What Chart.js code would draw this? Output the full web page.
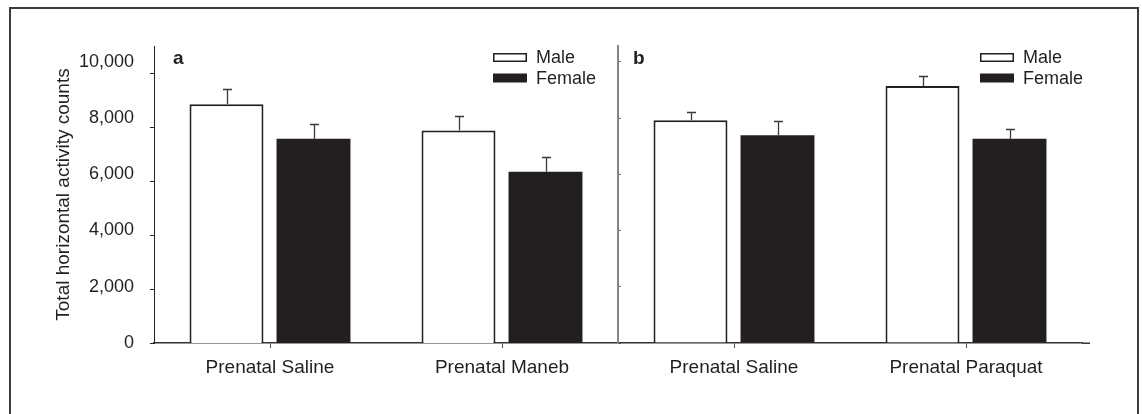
<!DOCTYPE html>
<html>
<head>
<meta charset="utf-8">
<script src="https://cdn.jsdelivr.net/npm/chart.js@4.4.1/dist/chart.umd.min.js"></script>
<style>
  html, body { margin: 0; padding: 0; background: #fff; overflow: hidden; }
  #fig { position: relative; width: 1142px; height: 414px; background: #fff; overflow: hidden; }
  #frame { position: absolute; left: 9px; top: 7px; width: 1126px; height: 440px;
           border: 2px solid #3b3b3b; border-bottom: none; }
  canvas { position: absolute; top: 0; }
  #panelA { left: 0; }
  #panelB { left: 600px; }
</style>
</head>
<body>
<div id="fig">
  <div id="frame"></div>
  <canvas id="panelA" width="620" height="414"></canvas>
  <canvas id="panelB" width="542" height="414"></canvas>
</div>
<script>
// Group means and SEM for total horizontal activity counts
const panelACategories = ['Prenatal Saline', 'Prenatal Maneb'];
const panelBCategories = ['Prenatal Saline', 'Prenatal Paraquat'];
const seriesNames = ['Male', 'Female'];

const panelAMale = [8490, 7560];
const panelAMaleSem = [530, 520];
const panelAFemale = [7260, 6090];
const panelAFemaleSem = [525, 520];

const panelBMale = [7920, 9140];
const panelBMaleSem = [285, 355];
const panelBFemale = [7385, 7265];
const panelBFemaleSem = [520, 355];

const yTickValues = [0, 2000, 4000, 6000, 8000, 10000];

const INK = '#231f20';
const FONT = '"Liberation Sans", Arial, Helvetica, sans-serif';

// Upper SEM whiskers with a short cap
const errorBars = {
  id: 'errorBars',
  afterDatasetsDraw(chart) {
    const ctx = chart.ctx;
    const y = chart.scales.y;
    ctx.save();
    ctx.strokeStyle = '#3a3a3a';
    ctx.lineWidth = 1.3;
    chart.data.datasets.forEach((ds, i) => {
      chart.getDatasetMeta(i).data.forEach((bar, j) => {
        const top = Math.round(y.getPixelForValue(ds.data[j] + ds.sem[j])) + 0.5;
        const x = Math.round(bar.x) + 0.5;
        ctx.beginPath();
        ctx.moveTo(x, bar.y);
        ctx.lineTo(x, top);
        ctx.moveTo(x - 4.5, top);
        ctx.lineTo(x + 4.5, top);
        ctx.stroke();
      });
    });
    ctx.restore();
  }
};

// Panel letter, the Male/Female key inside the plot area, and an optional
// short run of the baseline past the last category
const panelKey = {
  id: 'panelKey',
  afterDraw(chart, args, opts) {
    const { ctx, chartArea } = chart;
    ctx.save();
    if (opts.tail) {
      const xs = chart.scales.x;
      ctx.strokeStyle = xs.options.border.color;
      ctx.lineWidth = xs.options.border.width;
      ctx.beginPath();
      ctx.moveTo(chartArea.right, chartArea.bottom + 0.25);
      ctx.lineTo(chartArea.right + opts.tail, chartArea.bottom + 0.25);
      ctx.stroke();
    }
    ctx.fillStyle = INK;
    ctx.font = 'bold 19px ' + FONT;
    ctx.textBaseline = 'alphabetic';
    ctx.fillText(opts.letter, chartArea.left + opts.letterX, chartArea.top + 18);
    ctx.font = '18px ' + FONT;
    ctx.textBaseline = 'middle';
    chart.data.datasets.forEach((ds, i) => {
      const bx = chartArea.left + opts.keyX;
      const cy = chartArea.top + 11.5 + i * 20.5;
      ctx.fillStyle = ds.backgroundColor;
      ctx.fillRect(bx, cy - 4.5, 34, 9);
      if (ds.borderWidth) {
        ctx.strokeStyle = ds.borderColor;
        ctx.lineWidth = 1.5;
        ctx.strokeRect(bx + 0.75, cy - 3.75, 32.5, 7.5);
      }
      ctx.fillStyle = INK;
      ctx.fillText(ds.label, bx + 43, cy + 1);
    });
    ctx.restore();
  }
};

function setTicks(scale) {
  scale.ticks = yTickValues.map(v => ({ value: v }));
}

function datasets(male, maleSem, female, femaleSem) {
  const common = { categoryPercentage: 0.75, barPercentage: 0.85 };
  return [
    Object.assign({ label: seriesNames[0], data: male, sem: maleSem,
      backgroundColor: '#ffffff', borderColor: INK, borderWidth: 2 }, common),
    Object.assign({ label: seriesNames[1], data: female, sem: femaleSem,
      backgroundColor: INK, borderColor: INK, borderWidth: 0 }, common)
  ];
}

const xScale = {
  type: 'category',
  offset: true,
  grid: { offset: false, drawOnChartArea: false, tickLength: 5, color: '#555', lineWidth: 1 },
  border: { color: '#333', width: 1.5 },
  ticks: { color: INK, font: { size: 19, family: FONT }, padding: 8, maxRotation: 0 },
  afterFit(s) { s.height = 71; }
};

const baseOptions = {
  responsive: false,
  animation: false,
  events: [],
  plugins: { legend: { display: false }, tooltip: { enabled: false } }
};

// Panel a: labelled axis plus the panel's own tick marks
new Chart(document.getElementById('panelA'), {
  type: 'bar',
  data: { labels: panelACategories, datasets: datasets(panelAMale, panelAMaleSem, panelAFemale, panelAFemaleSem) },
  plugins: [errorBars, panelKey],
  options: Object.assign({}, baseOptions, {
    layout: { padding: { left: 48, top: 46, right: 2, bottom: 0 } },
    plugins: Object.assign({}, baseOptions.plugins, { panelKey: { letter: 'a', letterX: 19, keyX: 339, tail: 0 } }),
    scales: {
      x: xScale,
      y: {
        position: 'left', weight: 1, min: 0, max: 10560,
        afterBuildTicks: setTicks,
        grid: { display: false },
        border: { display: false },
        ticks: { color: INK, font: { size: 18, family: FONT }, padding: 8,
                 callback: v => v.toLocaleString('en-US') },
        title: { display: true, text: 'Total horizontal activity counts', color: INK,
                 font: { size: 19, family: FONT }, padding: { top: 4, bottom: 0 } },
        afterFit(s) { s.width = 102; }
      },
      ym: {
        position: 'left', weight: 0, min: 0, max: 11000,
        afterBuildTicks: setTicks,
        ticks: { display: false },
        grid: { drawOnChartArea: false, tickLength: 4, color: INK },
        border: { color: INK, width: 1 },
        afterFit(s) { s.width = 4; }
      }
    }
  })
});

// Panel b: unlabelled axis with inward tick marks
new Chart(document.getElementById('panelB'), {
  type: 'bar',
  data: { labels: panelBCategories, datasets: datasets(panelBMale, panelBMaleSem, panelBFemale, panelBFemaleSem) },
  plugins: [errorBars, panelKey],
  options: Object.assign({}, baseOptions, {
    layout: { padding: { left: 18, top: 46, right: 60, bottom: 0 } },
    plugins: Object.assign({}, baseOptions.plugins, { panelKey: { letter: 'b', letterX: 15, keyX: 362, tail: 8 } }),
    scales: {
      x: xScale,
      y: {
        position: 'left', min: 0, max: 10560,
        afterBuildTicks: setTicks,
        ticks: { display: false },
        grid: { drawOnChartArea: false, tickLength: -3, color: '#6f6f6f' },
        border: { color: '#858585', width: 2 },
        afterFit(s) { s.width = 0; }
      }
    }
  })
});
</script>
</body>
</html>
